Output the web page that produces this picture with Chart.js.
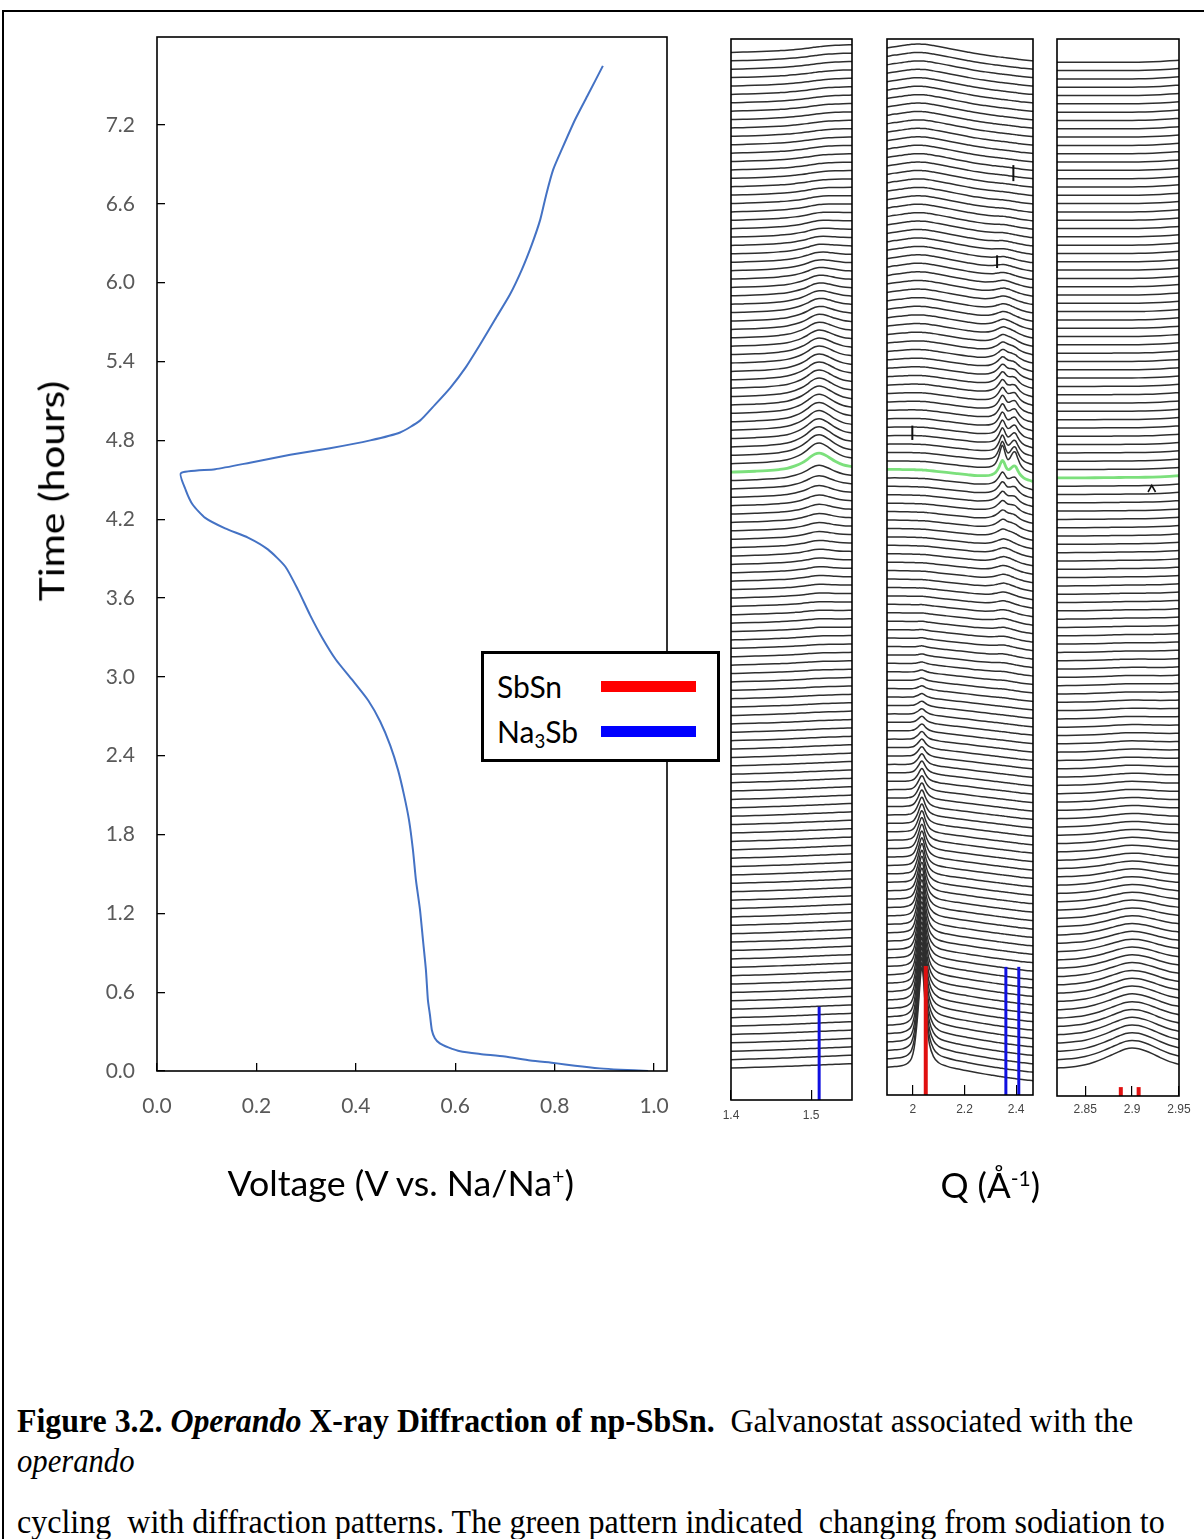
<!DOCTYPE html>
<html>
<head>
<meta charset="utf-8">
<title>Operando XRD of np-SbSn</title>
<script src="https://cdn.jsdelivr.net/npm/chart.js@4.4.1/dist/chart.umd.min.js"></script>
<style>
  html, body { margin: 0; padding: 0; background: #fff; }
  body { position: relative; width: 1204px; height: 1539px; overflow: hidden; font-family: Lato, "Open Sans", sans-serif; }
  .frame-top { position: absolute; left: 3px; top: 10px; width: 1201px; height: 2px; background: #000; }
  .frame-left { position: absolute; left: 2px; top: 10px; width: 2px; height: 1529px; background: #000; }
  canvas { position: absolute; top: 0; }
  .txt { position: absolute; white-space: nowrap; color: #000; line-height: 1; }
  .axis-title { font-family: Lato, sans-serif; font-size: 34px; }
  .caption { font-family: "Liberation Serif", "Times New Roman", serif; font-size: 33px; transform-origin: left center; }
  #legend { position: absolute; left: 481px; top: 651px; width: 233px; height: 105px; border: 3px solid #000; background: #fff; }
  #legend .name { position: absolute; left: 13px; font-family: Lato, sans-serif; font-size: 30px; line-height: 1; white-space: nowrap; }
  #legend .bar { position: absolute; left: 117px; width: 95px; height: 11px; }
  sub { font-size: 0.62em; vertical-align: -0.25em; }
  sup { font-size: 0.6em; vertical-align: 0.6em; }
</style>
</head>
<body>
<div class="frame-top"></div>
<div class="frame-left"></div>

<canvas id="galvano" width="700" height="1230" style="left:0px"></canvas>
<canvas id="xrd1" width="161" height="1130" style="left:711px"></canvas>
<canvas id="xrd2" width="186" height="1130" style="left:867px"></canvas>
<canvas id="xrd3" width="162" height="1130" style="left:1037px"></canvas>

<div id="legend">
  <div class="name" style="top:17px">SbSn</div>
  <div class="bar" style="top:27px;background:#ff0000"></div>
  <div class="name" style="top:62px">Na<sub>3</sub>Sb</div>
  <div class="bar" style="top:72px;background:#0000ff"></div>
</div>

<div class="txt axis-title" id="yTitle">Time (hours)</div>
<div class="txt axis-title" id="xTitle">Voltage (V vs. Na/Na<sup>+</sup>)</div>
<div class="txt axis-title" id="qTitle">Q (Å<sup>-1</sup>)</div>

<div class="txt caption" id="cap1"><b>Figure 3.2.</b><b><i> Operando</i></b><b> X-ray Diffraction of np-SbSn.</b>&nbsp; Galvanostat associated with the</div>
<div class="txt caption" id="cap2"><i>operando</i></div>
<div class="txt caption" id="cap3">cycling&nbsp; with diffraction patterns. The green pattern indicated&nbsp; changing from sodiation to</div>

<script>
// galvanostat: voltage (V) against time (h)
var voltage = [0.988, 0.932, 0.891, 0.841, 0.801, 0.751, 0.700, 0.650, 0.610, 0.586,
  0.569, 0.559, 0.553, 0.549, 0.545, 0.541, 0.535, 0.529, 0.521, 0.515,
  0.507, 0.497, 0.485, 0.469, 0.449, 0.425, 0.392, 0.360, 0.332, 0.308,
  0.284, 0.258, 0.223, 0.183, 0.137, 0.097, 0.072, 0.058, 0.048,
  0.117, 0.187, 0.268, 0.348, 0.429, 0.489, 0.529, 0.559, 0.590, 0.620,
  0.650, 0.680, 0.710, 0.734, 0.754, 0.771, 0.783, 0.797, 0.815, 0.841,
  0.867, 0.897];
var timeHours = [0, 0.01, 0.02, 0.04, 0.06, 0.08, 0.11, 0.13, 0.15, 0.18,
  0.21, 0.25, 0.31, 0.43, 0.54, 0.77, 1.00, 1.23, 1.45, 1.68,
  1.91, 2.10, 2.29, 2.48, 2.66, 2.82, 2.98, 3.13, 3.30, 3.47,
  3.66, 3.84, 3.97, 4.06, 4.13, 4.21, 4.31, 4.42, 4.55,
  4.58, 4.63, 4.69, 4.74, 4.80, 4.86, 4.95, 5.07, 5.20, 5.35,
  5.53, 5.72, 5.91, 6.10, 6.29, 6.48, 6.67, 6.86, 7.02, 7.24,
  7.43, 7.65];
var timeTicks = [0, 0.6, 1.2, 1.8, 2.4, 3.0, 3.6, 4.2, 4.8, 5.4, 6.0, 6.6, 7.2];
var voltTicks = [0, 0.2, 0.4, 0.6, 0.8, 1.0];

// operando patterns, stacked one spacing apart; the green one is the turn to desodiation
var scanCount = 122;
var greenScan = 71;

// panel 1, Q 1.40 - 1.55
var p1Q = [1.400, 1.415, 1.430, 1.445, 1.460, 1.470, 1.480, 1.488, 1.495, 1.500, 1.505, 1.510, 1.515, 1.522, 1.530, 1.540, 1.551];
var p1Base = [0, 0.04, 0.08, 0.12, 0.17, 0.2, 0.24, 0.27, 0.3, 0.32, 0.34, 0.36, 0.38, 0.41, 0.44, 0.48, 0.52];
var p1Hump = [0, 0, 0.01, 0.03, 0.07, 0.13, 0.26, 0.42, 0.63, 0.82, 0.96, 1.0, 0.93, 0.72, 0.45, 0.2, 0.07];
var p1Broad = [0, 0, 0, 0.03, 0.08, 0.14, 0.24, 0.34, 0.44, 0.54, 0.63, 0.72, 0.8, 0.87, 0.92, 0.92, 0.88];
var p1HumpHeight = [0, 0, 0, 0, 0, 0, 0, 0, 0, 0,
  0, 0, 0, 0, 0, 0, 0, 0, 0, 0,
  0, 0, 0, 0, 0, 0, 0, 0, 0, 0,
  0, 0, 0, 0, 0, 0, 0, 0, 0.02, 0.02,
  0.03, 0.03, 0.04, 0.04, 0.05, 0.05, 0.06, 0.07, 0.08, 0.09,
  0.1, 0.12, 0.14, 0.16, 0.18, 0.2, 0.24, 0.28, 0.32, 0.36,
  0.4, 0.45, 0.5, 0.56, 0.63, 0.7, 0.8, 0.92, 1.05, 1.2,
  1.45, 1.9, 2.1, 2.1, 2.05, 2.0, 1.95, 1.9, 1.85, 1.8,
  1.74, 1.68, 1.62, 1.55, 1.48, 1.4, 1.32, 1.24, 1.16, 1.08,
  1.0, 0.92, 0.84, 0.76, 0.68, 0.6, 0.52, 0.45, 0.39, 0.33,
  0.28, 0.23, 0.19, 0.16, 0.13, 0.1, 0.08, 0.07, 0.06, 0.05,
  0.04, 0.03, 0.03, 0.02, 0.02, 0.01, 0.01, 0.01, 0, 0,
  0, 0];
var p1BroadHeight = [0, 0, 0, 0, 0, 0, 0, 0, 0, 0,
  0, 0, 0, 0, 0, 0, 0, 0, 0, 0,
  0, 0, 0, 0, 0, 0, 0, 0, 0, 0,
  0, 0, 0, 0, 0, 0, 0, 0, 0, 0,
  0, 0, 0, 0, 0, 0, 0, 0, 0, 0,
  0, 0, 0, 0, 0, 0, 0, 0, 0, 0,
  0, 0, 0, 0, 0, 0, 0, 0, 0, 0,
  0, 0, 0, 0, 0, 0, 0.03, 0.06, 0.09, 0.12,
  0.15, 0.18, 0.21, 0.24, 0.27, 0.3, 0.33, 0.36, 0.39, 0.42,
  0.45, 0.45, 0.45, 0.45, 0.45, 0.45, 0.45, 0.45, 0.45, 0.45,
  0.45, 0.45, 0.45, 0.45, 0.45, 0.45, 0.45, 0.45, 0.45, 0.45,
  0.45, 0.45, 0.45, 0.45, 0.45, 0.45, 0.45, 0.45, 0.45, 0.45,
  0.45, 0.45];

// panel 2, Q 1.90 - 2.465
var p2Q = [1.900, 1.930, 1.960, 1.980, 1.995, 2.005, 2.015, 2.022, 2.027, 2.031,
  2.035, 2.039, 2.043, 2.048, 2.055, 2.065, 2.080, 2.100, 2.130, 2.170,
  2.210, 2.250, 2.280, 2.305, 2.320, 2.332, 2.340, 2.346, 2.352, 2.360,
  2.368, 2.376, 2.384, 2.392, 2.398, 2.405, 2.415, 2.430, 2.450, 2.465];
var p2Base = [0, 0, -0.02, -0.03, -0.04, -0.05, -0.06, -0.07, -0.07, -0.08,
  -0.08, -0.09, -0.09, -0.1, -0.12, -0.15, -0.2, -0.27, -0.37, -0.5,
  -0.63, -0.78, -0.88, -0.97, -1.02, -1.06, -1.09, -1.11, -1.13, -1.16,
  -1.19, -1.22, -1.25, -1.28, -1.3, -1.33, -1.37, -1.42, -1.48, -1.52];
var p2SbSn = [0.008, 0.014, 0.026, 0.05, 0.1, 0.2, 0.42, 0.64, 0.82, 0.95,
  1.0, 0.95, 0.82, 0.62, 0.42, 0.24, 0.13, 0.075, 0.05, 0.034,
  0.025, 0.018, 0.013, 0.01, 0.008, 0.007, 0.006, 0.006, 0.005, 0.005,
  0.004, 0.004, 0.004, 0.004, 0.003, 0.003, 0.003, 0.003, 0.002, 0.002];
var p2Na3Sb = [0, 0, 0, 0, 0, 0, 0, 0, 0, 0,
  0, 0, 0, 0, 0, 0, 0, 0, 0, 0,
  0, 0.01, 0.03, 0.08, 0.2, 0.5, 0.82, 1.0, 0.88, 0.55,
  0.38, 0.48, 0.68, 0.82, 0.8, 0.6, 0.34, 0.14, 0.06, 0.02];
var p2NaBroad = [0, 0, 0, 0, 0, 0, 0, 0, 0, 0,
  0, 0, 0, 0, 0, 0, 0, 0, 0, 0,
  0.01, 0.05, 0.15, 0.35, 0.55, 0.75, 0.88, 0.95, 1.0, 0.98,
  0.92, 0.85, 0.75, 0.65, 0.58, 0.5, 0.4, 0.28, 0.17, 0.12];
var p2Upper = [0, 0.15, 0.3, 0.4, 0.47, 0.5, 0.52, 0.53, 0.53, 0.53,
  0.53, 0.53, 0.53, 0.53, 0.52, 0.5, 0.48, 0.44, 0.36, 0.25,
  0.15, 0.08, 0.04, 0.02, 0.01, 0, 0, 0, 0, 0,
  0, 0, 0, 0, 0, 0, 0, 0, 0, 0];
var p2SbSnHeight = [12.0, 11.6, 11.2, 10.8, 10.4, 10.0, 9.6, 9.2, 8.8, 8.4,
  8.0, 7.6, 7.2, 6.8, 6.4, 6.0, 5.7, 5.4, 5.1, 4.8,
  4.5, 4.2, 3.9, 3.7, 3.4, 3.2, 3.0, 2.8, 2.6, 2.4,
  2.2, 2.05, 1.9, 1.75, 1.6, 1.5, 1.35, 1.2, 1.1, 1.0,
  0.9, 0.8, 0.7, 0.6, 0.5, 0.42, 0.35, 0.3, 0.25, 0.2,
  0.16, 0.12, 0.1, 0.08, 0.06, 0.05, 0.04, 0.03, 0.02, 0.02,
  0.01, 0, 0, 0, 0, 0, 0, 0, 0, 0,
  0, 0, 0, 0, 0, 0, 0, 0, 0, 0,
  0, 0, 0, 0, 0, 0, 0, 0, 0, 0,
  0, 0, 0, 0, 0, 0, 0, 0, 0, 0,
  0, 0, 0, 0, 0, 0, 0, 0, 0, 0,
  0, 0, 0, 0, 0, 0, 0, 0, 0, 0,
  0, 0];
var p2Na3SbHeight = [0, 0, 0, 0, 0, 0, 0, 0, 0, 0,
  0, 0, 0, 0, 0, 0, 0, 0, 0, 0,
  0, 0, 0, 0, 0, 0, 0, 0, 0, 0,
  0, 0, 0, 0, 0, 0, 0, 0, 0, 0,
  0, 0, 0, 0, 0, 0, 0, 0, 0, 0,
  0, 0, 0, 0, 0, 0, 0, 0, 0, 0,
  0, 0, 0, 0, 0.15, 0.25, 0.35, 0.5, 0.65, 0.85,
  1.1, 1.6, 2.6, 2.1, 1.8, 1.6, 1.45, 1.35, 1.25, 1.15,
  1.0, 0.85, 0.7, 0.55, 0.42, 0.3, 0.2, 0.12, 0.06, 0.03,
  0, 0, 0, 0, 0, 0, 0, 0, 0, 0,
  0, 0, 0, 0, 0, 0, 0, 0, 0, 0,
  0, 0, 0, 0, 0, 0, 0, 0, 0, 0,
  0, 0];
var p2NaBroadHeight = [0, 0, 0, 0, 0, 0, 0, 0, 0, 0,
  0, 0, 0, 0, 0, 0, 0, 0, 0, 0,
  0, 0, 0, 0, 0, 0, 0, 0, 0, 0,
  0, 0, 0, 0, 0, 0, 0, 0, 0, 0,
  0, 0, 0, 0, 0, 0.04, 0.08, 0.12, 0.16, 0.2,
  0.25, 0.3, 0.35, 0.4, 0.45, 0.5, 0.55, 0.6, 0.65, 0.7,
  0.75, 0.8, 0.85, 0.9, 0.95, 1.0, 1.0, 0.98, 0.92, 0.85,
  0.75, 0.6, 0.4, 0.38, 0.42, 0.48, 0.55, 0.62, 0.7, 0.8,
  0.9, 0.98, 1.05, 1.1, 1.1, 1.1, 1.08, 1.04, 1.0, 0.95,
  0.88, 0.8, 0.72, 0.65, 0.58, 0.5, 0.44, 0.38, 0.32, 0.27,
  0.22, 0.18, 0.15, 0.12, 0.1, 0.08, 0.06, 0.05, 0.04, 0.03,
  0.02, 0.02, 0.01, 0.01, 0, 0, 0, 0, 0, 0,
  0, 0];
var p2UpperHeight = [0, 0, 0, 0, 0, 0, 0, 0, 0, 0,
  0, 0, 0, 0, 0, 0, 0, 0, 0, 0,
  0, 0, 0, 0, 0, 0, 0, 0, 0, 0,
  0, 0, 0, 0, 0, 0, 0, 0, 0, 0,
  0, 0, 0, 0, 0, 0, 0, 0, 0, 0,
  0, 0, 0, 0, 0, 0, 0, 0, 0, 0,
  0, 0, 0, 0, 0, 0, 0, 0, 0, 0,
  0.02, 0.04, 0.06, 0.08, 0.1, 0.13, 0.16, 0.2, 0.24, 0.28,
  0.32, 0.36, 0.4, 0.45, 0.5, 0.55, 0.6, 0.65, 0.7, 0.75,
  0.8, 0.84, 0.88, 0.92, 0.96, 1, 1, 1, 1, 1,
  1, 1, 1, 1, 1, 1, 1, 1, 1, 1,
  1, 1, 1, 1, 1, 1, 1, 1, 1, 1,
  1, 1];
// detector glitches seen in single scans: [Q, low, high] in stack units
var p2Glitches = [[2.389, 105.2, 107.1], [2.326, 94.9, 96.4], [1.998, 74.5, 76.2]];

// panel 3, Q 2.82 - 2.95
var p3Q = [2.820, 2.830, 2.840, 2.850, 2.860, 2.870, 2.878, 2.886, 2.893, 2.900, 2.907, 2.914, 2.922, 2.930, 2.940, 2.950];
var p3Base = [0, 0, 0, 0, 0, 0, 0, 0, 0, 0, 0.01, 0.03, 0.06, 0.1, 0.17, 0.25];
var p3Hump = [0, 0.03, 0.08, 0.16, 0.3, 0.48, 0.65, 0.82, 0.95, 1.0, 0.96, 0.85, 0.68, 0.48, 0.25, 0.08];
var p3HumpHeight = [2.4, 2.32, 2.25, 2.18, 2.1, 2.04, 1.98, 1.92, 1.86, 1.8,
  1.74, 1.68, 1.62, 1.56, 1.5, 1.44, 1.38, 1.32, 1.26, 1.2,
  1.14, 1.08, 1.02, 0.96, 0.9, 0.85, 0.8, 0.75, 0.7, 0.66,
  0.62, 0.58, 0.55, 0.52, 0.49, 0.46, 0.43, 0.4, 0.38, 0.36,
  0.34, 0.32, 0.3, 0.28, 0.26, 0.25, 0.24, 0.22, 0.2, 0.19,
  0.18, 0.17, 0.16, 0.15, 0.14, 0.13, 0.12, 0.12, 0.11, 0.1,
  0.1, 0.09, 0.09, 0.08, 0.08, 0.07, 0.07, 0.06, 0.06, 0.05,
  0.05, 0.05, 0.04, 0.04, 0.04, 0.03, 0.03, 0.03, 0.02, 0.02,
  0.02, 0.02, 0.02, 0.02, 0.01, 0.01, 0.01, 0.01, 0.01, 0.01,
  0, 0, 0, 0, 0, 0, 0, 0, 0, 0,
  0, 0, 0, 0, 0, 0, 0, 0, 0, 0,
  0, 0, 0, 0, 0, 0, 0, 0, 0, 0,
  0, 0];
var p3GlitchQ = [2.917, 2.921, 2.925];
var p3GlitchY = [69.3, 70.1, 69.3];

// reference stick positions (Q) and their heights in stack spacings
var p1Ticks = [1.4, 1.5];
var p2Ticks = [2, 2.2, 2.4];
var p3Ticks = [2.85, 2.9, 2.95];
var na3sbRefP1 = [1.51];
var sbsnRefP2 = [2.05];
var na3sbRefP2 = [2.36, 2.41];
var sbsnRefP3 = [2.888, 2.907];

var BLACK = "#2e2e2e";
var GREEN = "#7ce07c";

var boxPlugin = {
  id: "box",
  afterDraw: function (chart) {
    var a = chart.chartArea;
    var ctx = chart.ctx;
    ctx.save();
    ctx.strokeStyle = "#000";
    ctx.lineWidth = 1.6;
    ctx.strokeRect(a.left, a.top, a.right - a.left, a.bottom - a.top);
    ctx.restore();
  }
};

// keep the plot box where it is in the figure: no extra room for edge labels
function fixSize(size, horizontal) {
  return function (s) {
    if (horizontal) s.height = size; else s.width = size;
    s.paddingLeft = 0;
    s.paddingRight = 0;
    s.paddingTop = 0;
    s.paddingBottom = 0;
  };
}

function scanSets(q, base, parts) {
  var sets = [];
  for (var i = 0; i < scanCount; i++) {
    var pts = q.map(function (qv, k) {
      var y = i + base[k];
      parts.forEach(function (p) {
        y += p[1][i] * p[0][k];
      });
      return { x: qv, y: y };
    });
    var green = i === greenScan;
    sets.push({
      data: pts,
      showLine: true,
      pointRadius: 0,
      borderColor: green ? GREEN : BLACK,
      borderWidth: green ? 2.8 : 1.5,
      cubicInterpolationMode: "monotone",
      order: green ? 3 : 2
    });
  }
  return sets;
}

function refSets(qs, bottom, top, color, width) {
  return qs.map(function (qv) {
    return {
      data: [{ x: qv, y: bottom }, { x: qv, y: top }],
      showLine: true,
      pointRadius: 0,
      borderColor: color,
      borderWidth: width,
      order: 0
    };
  });
}

function glitchSets(list) {
  return list.map(function (g) {
    return {
      data: [{ x: g[0], y: g[1] }, { x: g[0], y: g[2] }],
      showLine: true,
      pointRadius: 0,
      borderColor: "#111",
      borderWidth: 2,
      order: 1
    };
  });
}

function xrdChart(id, q, ticks, yMin, yMax, axisH, labelPad, datasets) {
  return new Chart(document.getElementById(id), {
    type: "scatter",
    data: { datasets: datasets },
    options: {
      responsive: false,
      animation: false,
      events: [],
      layout: { padding: { left: 20, right: 20, top: 39, bottom: 0 } },
      plugins: { legend: { display: false }, tooltip: { enabled: false } },
      scales: {
        x: {
          type: "linear",
          min: q[0],
          max: q[q.length - 1],
          afterBuildTicks: function (s) {
            s.ticks = ticks.map(function (v) { return { value: v }; });
          },
          afterFit: fixSize(axisH, true),
          grid: { drawOnChartArea: false, drawTicks: true, tickLength: -10, color: "#000", lineWidth: 1.2 },
          border: { display: false },
          ticks: {
            padding: labelPad,
            maxRotation: 0,
            color: "#444",
            font: { family: "'Liberation Sans', Arial, sans-serif", size: 12 },
            callback: function (v) { return String(v); }
          }
        },
        y: { display: false, min: yMin, max: yMax }
      }
    },
    plugins: [boxPlugin]
  });
}

// left: galvanostat
new Chart(document.getElementById("galvano"), {
  type: "scatter",
  data: {
    datasets: [{
      data: voltage.map(function (v, i) { return { x: v, y: timeHours[i] }; }),
      showLine: true,
      pointRadius: 0,
      borderColor: "#4472c4",
      borderWidth: 2,
      tension: 0.2
    }]
  },
  options: {
    responsive: false,
    animation: false,
    events: [],
    layout: { padding: { left: 0, right: 33, top: 37, bottom: 0 } },
    plugins: { legend: { display: false }, tooltip: { enabled: false } },
    scales: {
      x: {
        type: "linear",
        min: 0,
        max: 1.026,
        afterBuildTicks: function (s) {
          s.ticks = voltTicks.map(function (v) { return { value: v }; });
        },
        afterFit: fixSize(159, true),
        grid: { drawOnChartArea: false, tickLength: -8, color: "#000", lineWidth: 1.3 },
        border: { display: false },
        ticks: {
          padding: 31,
          maxRotation: 0,
          color: "#595959",
          font: { family: "Lato, sans-serif", size: 21 },
          callback: function (v) { return v.toFixed(1); }
        }
      },
      y: {
        type: "linear",
        min: 0,
        max: 7.87,
        afterBuildTicks: function (s) {
          s.ticks = timeTicks.map(function (v) { return { value: v }; });
        },
        afterFit: fixSize(157, false),
        grid: { drawOnChartArea: false, tickLength: -8, color: "#000", lineWidth: 1.3 },
        border: { display: false },
        ticks: {
          padding: 30,
          color: "#595959",
          font: { family: "Lato, sans-serif", size: 21 },
          callback: function (v) { return v.toFixed(1); }
        }
      }
    }
  },
  plugins: [boxPlugin]
});

// right: three Q windows
xrdChart("xrd1", p1Q, p1Ticks, -3.81, 122.6, 30, 18,
  scanSets(p1Q, p1Base, [[p1Hump, p1HumpHeight], [p1Broad, p1BroadHeight]])
    .concat(refSets(na3sbRefP1, -3.81, 7.3, "#1010e0", 3)));

xrdChart("xrd2", p2Q, p2Ticks, -3.2, 122.06, 35, 17,
  scanSets(p2Q, p2Base, [[p2SbSn, p2SbSnHeight], [p2Na3Sb, p2Na3SbHeight],
    [p2NaBroad, p2NaBroadHeight], [p2Upper, p2UpperHeight]])
    .concat(glitchSets(p2Glitches))
    .concat(refSets(sbsnRefP2, -3.2, 12.1, "#e01010", 4))
    .concat(refSets(na3sbRefP2, -3.2, 12.0, "#1010e0", 3)));

xrdChart("xrd3", p3Q, p3Ticks, -3.37, 123.8, 34, 16,
  scanSets(p3Q, p3Base, [[p3Hump, p3HumpHeight]])
    .concat([{
      data: p3GlitchQ.map(function (q, i) { return { x: q, y: p3GlitchY[i] }; }),
      showLine: true, pointRadius: 0, borderColor: "#111", borderWidth: 1.6, order: 1
    }])
    .concat(refSets(sbsnRefP3, -3.37, -2.3, "#e01010", 4)));

// free text: centre it and squeeze it to the width it has in the figure
function placeText(id, cx, cy, targetW, angle) {
  var el = document.getElementById(id);
  var w = el.offsetWidth, h = el.offsetHeight;
  el.style.left = (cx - w / 2) + "px";
  el.style.top = (cy - h / 2) + "px";
  el.style.transform = "rotate(" + (angle || 0) + "deg) scaleX(" + (targetW / w) + ")";
}

function placeLine(id, x, cy, targetW) {
  var el = document.getElementById(id);
  var w = el.offsetWidth, h = el.offsetHeight;
  el.style.left = x + "px";
  el.style.top = (cy - h / 2) + "px";
  el.style.transform = "scaleX(" + (targetW / w) + ")";
}

placeText("yTitle", 51, 491, 220, -90);
placeText("xTitle", 401, 1183, 347, 0);
placeText("qTitle", 990, 1185, 100, 0);
placeLine("cap1", 17, 1421, 1116);
placeLine("cap2", 17, 1461, 118);
placeLine("cap3", 17, 1522, 1148);
</script>
</body>
</html>
